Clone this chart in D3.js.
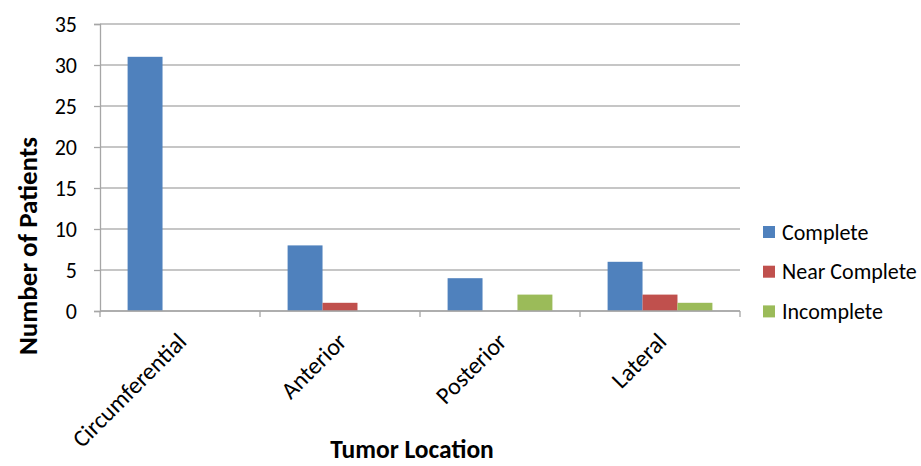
<!DOCTYPE html>
<html>
<head>
<meta charset="utf-8">
<script src="https://cdn.jsdelivr.net/npm/d3@7"></script>
<style>
  body { margin: 0; background: #fff; }
  text { font-family: Carlito, Lato, "Open Sans", sans-serif; fill: #000; }
</style>
</head>
<body>
<div id="chart"></div>
<script>
var categories = ["Circumferential", "Anterior", "Posterior", "Lateral"];
var seriesNames = ["Complete", "Near Complete", "Incomplete"];
var complete = [31, 8, 4, 6];
var nearComplete = [0, 1, 0, 2];
var incomplete = [0, 0, 2, 1];
var yTicks = [0, 5, 10, 15, 20, 25, 30, 35];
var colors = ["#4F81BD", "#C0504D", "#9BBB59"];

var W = 921, H = 466;
var margin = {top: 24, right: 181, bottom: 155, left: 100};
var width = W - margin.left - margin.right,   // 640
    height = H - margin.top - margin.bottom;  // 287

var svg = d3.select("#chart").append("svg")
    .attr("width", W)
    .attr("height", H);

var g = svg.append("g")
    .attr("transform", "translate(" + margin.left + "," + margin.top + ")");

var x = d3.scaleBand().domain(categories).range([0, width]);
var xInner = d3.scaleBand().domain(seriesNames)
    .range([0, x.bandwidth()]).paddingOuter(0.79).paddingInner(0);
var y = d3.scaleLinear().domain([0, 35]).range([height, 0]);

// gridlines
g.append("g").selectAll("line")
    .data(yTicks)
    .enter().append("line")
    .attr("x1", 0).attr("x2", width)
    .attr("y1", function (d) { return y(d); })
    .attr("y2", function (d) { return y(d); })
    .attr("stroke", "#b3b3b3").attr("stroke-width", 1.3);

// bars
var table = categories.map(function (c, i) {
    return {cat: c, vals: [complete[i], nearComplete[i], incomplete[i]]};
});
var groups = g.append("g").selectAll("g")
    .data(table)
    .enter().append("g")
    .attr("transform", function (d) { return "translate(" + x(d.cat) + ",0)"; });
groups.selectAll("rect")
    .data(function (d) { return d.vals.map(function (v, j) { return {s: seriesNames[j], v: v, j: j}; }); })
    .enter().append("rect")
    .filter(function (d) { return d.v > 0; })
    .attr("x", function (d) { return xInner(d.s); })
    .attr("width", xInner.bandwidth())
    .attr("y", function (d) { return y(d.v); })
    .attr("height", function (d) { return y(0) - y(d.v); })
    .attr("fill", function (d) { return colors[d.j]; });

// y axis
var yAxis = g.append("g")
    .call(d3.axisLeft(y).tickValues(yTicks).tickSize(6).tickPadding(17));
yAxis.select(".domain").attr("stroke", "#a6a6a6").attr("stroke-width", 1.3);
yAxis.selectAll(".tick line").attr("stroke", "#a6a6a6").attr("stroke-width", 1.3);
yAxis.selectAll("text").style("font-size", "22px").attr("fill", "#000");

// x axis with boundary ticks
var xa = g.append("g").attr("transform", "translate(0," + height + ")");
xa.append("line").attr("x1", 0).attr("x2", width)
    .attr("stroke", "#a6a6a6").attr("stroke-width", 1.3);
var bounds = categories.map(function (c) { return x(c); }).concat([width]);
xa.selectAll(".bt").data(bounds).enter().append("line")
    .attr("class", "bt")
    .attr("x1", function (d) { return d; }).attr("x2", function (d) { return d; })
    .attr("y1", 0).attr("y2", 6)
    .attr("stroke", "#a6a6a6").attr("stroke-width", 1.3);
xa.selectAll(".lbl").data(categories).enter().append("text")
    .attr("class", "lbl")
    .attr("text-anchor", "end")
    .attr("transform", function (d) {
        return "translate(" + (x(d) + x.bandwidth() / 2 + 8) + ",32) rotate(-45)";
    })
    .style("font-size", "24px")
    .text(function (d) { return d; });

// axis titles
svg.append("text")
    .attr("transform", "translate(37,246) rotate(-90)")
    .attr("text-anchor", "middle")
    .style("font-size", "27px").style("font-weight", "bold")
    .text("Number of Patients");
svg.append("text")
    .attr("x", 412).attr("y", 458)
    .attr("text-anchor", "middle")
    .style("font-size", "25.5px").style("font-weight", "bold")
    .text("Tumor Location");

// legend
var legend = svg.append("g").attr("transform", "translate(763,232)");
var li = legend.selectAll("g").data(seriesNames).enter().append("g")
    .attr("transform", function (d, i) { return "translate(0," + (i * 39.7) + ")"; });
li.append("rect").attr("x", 0).attr("y", -6).attr("width", 12).attr("height", 12)
    .attr("fill", function (d, i) { return colors[i]; });
li.append("text").attr("x", 19).attr("dy", "0.35em")
    .style("font-size", "22px")
    .text(function (d) { return d; });
</script>
</body>
</html>
